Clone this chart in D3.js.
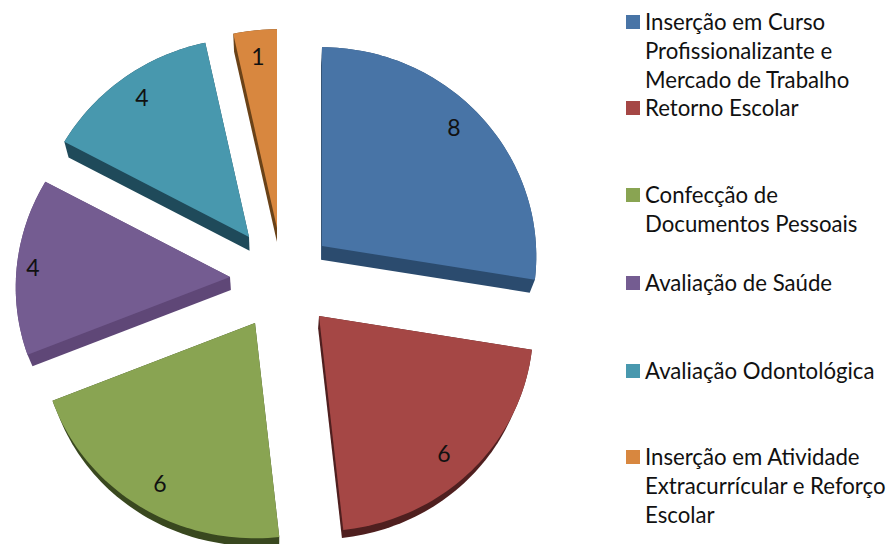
<!DOCTYPE html>
<html><head><meta charset="utf-8">
<script src="https://cdn.jsdelivr.net/npm/d3@7/dist/d3.min.js"></script>
<style>html,body{margin:0;padding:0;background:#fff}svg{display:block}text{font-family:Lato,"Open Sans",sans-serif;fill:#111}</style>
</head><body><svg id="c" width="891" height="544"></svg>
<script>
const categories = [
  ["Inserção em Curso","Profissionalizante e","Mercado de Trabalho"],
  ["Retorno Escolar"],
  ["Confecção de","Documentos Pessoais"],
  ["Avaliação de Saúde"],
  ["Avaliação Odontológica"],
  ["Inserção em Atividade","Extracurrícular e Reforço","Escolar"]
];
const values = [8,6,6,4,4,1];
const faceColors = ["#4874a6","#a54745","#89a452","#745c91","#4898ae","#d8873f"];
const wallColors = ["#2b4b6e","#4f1f1f","#39481f","#5f4777","#1f4a5a","#6a4218"];

// layout only
const apexes = [[322,246],[319,316],[255,323],[230,277],[249,237],[277,228]];
const labelOffsets = [[132,-118],[125,138],[-95,161],[-197,-9],[-107,-139],[-19,-171]];
const legendY = [22,108,195,283,371,457];
const legendLineH = 29.3;

const svg = d3.select("#c");
const arcs = d3.pie().sort(null).value(d=>d).startAngle(0).endAngle(2*Math.PI)(values);

const rim = (a,t)=>{const s=Math.sin(a),c=Math.cos(a);
  return [t[0]+214*s*(1-0.05*c), t[1]-207*c*(1-0.04*c)];};
const under = p=>{const d=13-(p[1]-280)*0.02;return [p[0]-(p[0]-275)*0.02,p[1]+d];};
const line = d3.line();

const slices = svg.append("g").selectAll("g").data(arcs).join("g");
slices.each(function(d,i){
  const g=d3.select(this), apex=apexes[i];
  const n=Math.max(6,Math.ceil((d.endAngle-d.startAngle)*40));
  const angle=d3.scaleLinear().domain([0,n]).range([d.startAngle,d.endAngle]);
  const outline=[apex,...d3.range(n+1).map(k=>rim(angle(k),apex))];
  const hull=d3.polygonHull([...outline,...outline.map(under)]);
  g.append("path").attr("d",line(hull)+"Z").attr("fill",wallColors[i]);
  g.append("path").attr("d",line(outline)+"Z").attr("fill",faceColors[i]);
  g.append("text").attr("x",apex[0]+labelOffsets[i][0]).attr("y",apex[1]+labelOffsets[i][1])
    .attr("dy","0.35em").attr("text-anchor","middle").attr("font-size",23).text(values[i]);
});

const leg=svg.append("g").selectAll("g").data(categories).join("g")
  .attr("transform",(d,i)=>`translate(626,${legendY[i]})`);
leg.append("rect").attr("x",0).attr("y",-7).attr("width",14).attr("height",14).attr("fill",(d,i)=>faceColors[i]);
leg.each(function(d){
  d3.select(this).selectAll("text").data(d).join("text")
   .attr("x",19).attr("y",(l,k)=>k*legendLineH).attr("dy","0.35em").attr("font-size",22.2).text(l=>l);
});
</script></body></html>
